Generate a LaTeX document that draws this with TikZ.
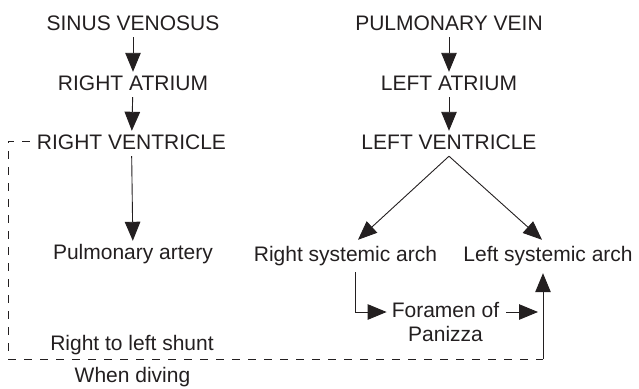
\documentclass[tikz,border=0pt]{standalone}
\usepackage{fontspec}
\setmainfont{Liberation Sans}
\usepackage{tikz}
\usetikzlibrary{arrows.meta,positioning,calc}
\definecolor{hcink}{HTML}{231F20}
\newcommand{\hcfont}{\fontsize{21}{24}\selectfont}
\tikzset{
  hcnode/.style={inner sep=3pt, font=\hcfont, text=hcink,
                 text height=15pt, text depth=4pt},
  hcnote/.style={inner sep=3pt, font=\hcfont, text=hcink, align=center},
  hcedge/.style={-{Triangle[length=19pt,width=15.5pt]}, draw=hcink, line width=0.9pt},
  hcline/.style={draw=hcink, line width=0.9pt},
  hcshunt/.style={draw=hcink, line width=0.9pt, dash pattern=on 8pt off 8pt, dash phase=12pt},
}

\begin{document}
\begin{tikzpicture}[x=1pt,y=-1pt]
  \useasboundingbox (0,0) rectangle (639,388);

  % right side of the heart
  \node[hcnode] (sv) at (133,24.5)  {SINUS VENOSUS};
  \node[hcnode] (ra) at (133,84.5)  {RIGHT ATRIUM};
  \node[hcnode] (rv) at (131.5,143.5) {RIGHT VENTRICLE};
  \node[hcnode] (pa) at (133,253.5) {Pulmonary artery};
  \draw[hcedge] (sv) -- (ra);
  \draw[hcedge] (ra) -- (rv);
  \draw[hcedge] (rv) -- (pa);

  % left side of the heart
  \node[hcnode] (pv)  at (449,24.5)  {PULMONARY VEIN};
  \node[hcnode] (la)  at (449,84.5)  {LEFT ATRIUM};
  \node[hcnode] (lv)  at (449,143.5) {LEFT VENTRICLE};
  \node[hcnode] (rsa) at (345.5,255.5) {Right systemic arch};
  \node[hcnode] (lsa) at (548,255.5) {Left systemic arch};
  \draw[hcedge] (pv) -- (la);
  \draw[hcedge] (la) -- (lv);
  \draw[hcedge] (lv.south) -- ([xshift=12.5pt,yshift=3pt]rsa.north);
  \draw[hcedge] (lv.south) -- ([xshift=-6pt,yshift=3pt]lsa.north);

  % foramen of Panizza
  \node[hcnote] (fp) at (445.5,322.3) {Foramen of\\Panizza};
  \coordinate (fpend) at (538,312);
  \draw[hcedge] ([xshift=9.5pt,yshift=-4pt]rsa.south) |- ([xshift=-2pt,yshift=10.3pt]fp.west);
  \draw[hcedge] ([xshift=4pt,yshift=10.3pt]fp.east) -- (fpend);

  % shunt when diving
  \node[hcnode] (rls) at (132,344.5) {Right to left shunt};
  \node[hcnode] (wd)  at (132.5,376.5) {When diving};
  \coordinate (shuntL) at (8,359);
  \coordinate (shuntR) at (543,359);
  \draw[hcshunt] ([yshift=2.5pt]rv.west) -| (shuntL) -- (shuntR);
  \draw[hcedge] (shuntR) -- ([xshift=-5pt,yshift=-5pt]lsa.south);
\end{tikzpicture}
\end{document}
